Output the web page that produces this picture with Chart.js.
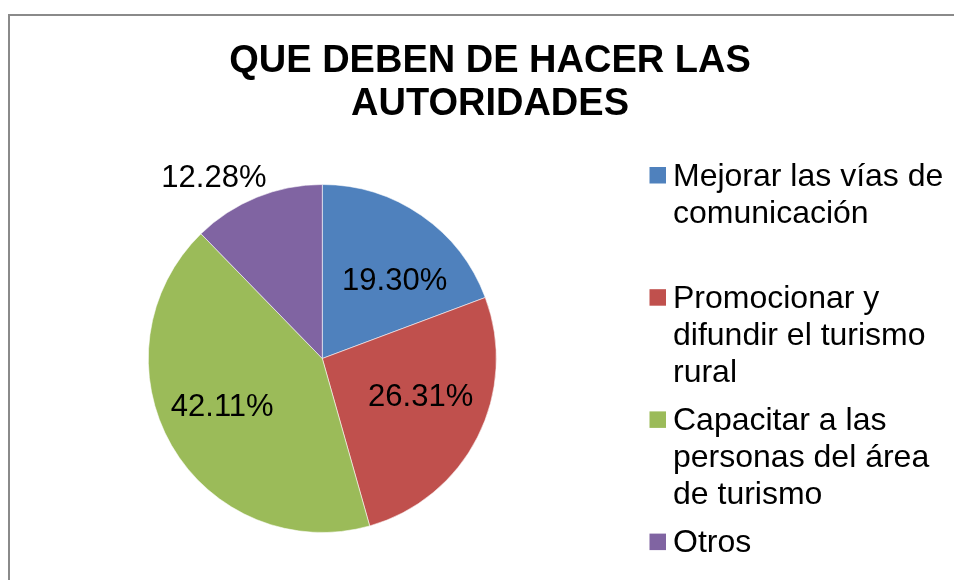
<!DOCTYPE html>
<html>
<head>
<meta charset="utf-8">
<script src="https://cdn.jsdelivr.net/npm/chart.js@4"></script>
<style>
  html, body { margin: 0; padding: 0; background: #ffffff; }
  #wrap { width: 954px; height: 580px; position: relative; }
</style>
</head>
<body>
<div id="wrap"><canvas id="c" width="954" height="580"></canvas></div>
<script>
// ---- data ----
const titleLines = ["QUE DEBEN DE HACER LAS", "AUTORIDADES"];
const categories = [
  "Mejorar las vías de comunicación",
  "Promocionar y difundir el turismo rural",
  "Capacitar a las personas del área de turismo",
  "Otros"
];
const percentages = [19.30, 26.31, 42.11, 12.28];
const sliceColors = ["#4F81BD", "#C0504D", "#9BBB59", "#8064A2"];

// label placement: shift from slice middle (degrees) and distance as fraction of radius
const labelAngleShift = [7.4, -6.5, 4.9, -8.6];
const labelRadiusFrac = [0.62, 0.603, 0.635, 1.22];

const FONT = "'Liberation Sans', Arial, Helvetica, sans-serif";

const decorPlugin = {
  id: 'decor',
  beforeDraw(chart) {
    const ctx = chart.ctx;
    ctx.save();
    ctx.fillStyle = '#ffffff';
    ctx.fillRect(0, 0, chart.width, chart.height);
    // frame
    ctx.strokeStyle = '#8a8a8a';
    ctx.lineWidth = 2;
    ctx.beginPath();
    ctx.moveTo(9, chart.height + 5);
    ctx.lineTo(9, 15);
    ctx.lineTo(chart.width + 5, 15);
    ctx.stroke();
    // title
    ctx.fillStyle = '#000000';
    ctx.font = 'bold 38px ' + FONT;
    ctx.textAlign = 'center';
    ctx.textBaseline = 'alphabetic';
    ctx.fillText(titleLines[0], 490, 72);
    ctx.fillText(titleLines[1], 490, 115);
    ctx.restore();
  },
  afterDatasetsDraw(chart) {
    const ctx = chart.ctx;
    const meta = chart.getDatasetMeta(0);
    ctx.save();
    ctx.font = '31px ' + FONT;
    ctx.fillStyle = '#000000';
    ctx.textAlign = 'center';
    ctx.textBaseline = 'alphabetic';
    meta.data.forEach((arc, i) => {
      const p = arc.getProps(['x', 'y', 'startAngle', 'endAngle', 'outerRadius'], true);
      const mid = (p.startAngle + p.endAngle) / 2 + labelAngleShift[i] * Math.PI / 180;
      const r = p.outerRadius * labelRadiusFrac[i];
      const lx = p.x + Math.cos(mid) * r;
      const ly = p.y + Math.sin(mid) * r;
      ctx.fillText(percentages[i].toFixed(2) + '%', lx, ly + 11);
    });

    // legend
    ctx.font = '32px ' + FONT;
    const maxW = 280;
    const x0 = 649.5, textX = 673;
    const firstBase = 185.5, step = 122.2, lineH = 37;
    ctx.textAlign = 'left';
    categories.forEach((label, i) => {
      const base = firstBase + i * step;
      ctx.fillStyle = sliceColors[i];
      ctx.fillRect(x0, base - 18.5, 16.5, 16.5);
      ctx.fillStyle = '#000000';
      const words = label.split(' ');
      const lines = [];
      let cur = '';
      words.forEach(w => {
        const t = cur ? cur + ' ' + w : w;
        if (ctx.measureText(t).width > maxW && cur) { lines.push(cur); cur = w; }
        else cur = t;
      });
      if (cur) lines.push(cur);
      lines.forEach((ln, k) => ctx.fillText(ln, textX, base + k * lineH));
    });
    ctx.restore();
  }
};

new Chart(document.getElementById('c'), {
  type: 'pie',
  data: {
    labels: categories,
    datasets: [{
      data: percentages,
      backgroundColor: sliceColors,
      borderColor: 'rgba(255,255,255,0.55)',
      borderWidth: 1,
      hoverOffset: 0
    }]
  },
  options: {
    responsive: false,
    animation: false,
    events: [],
    radius: 174,
    layout: { padding: { left: 148.3, right: 457.7, top: 184.5, bottom: 47.5 } },
    plugins: {
      legend: { display: false },
      title: { display: false },
      tooltip: { enabled: false }
    }
  },
  plugins: [decorPlugin]
});
</script>
</body>
</html>
